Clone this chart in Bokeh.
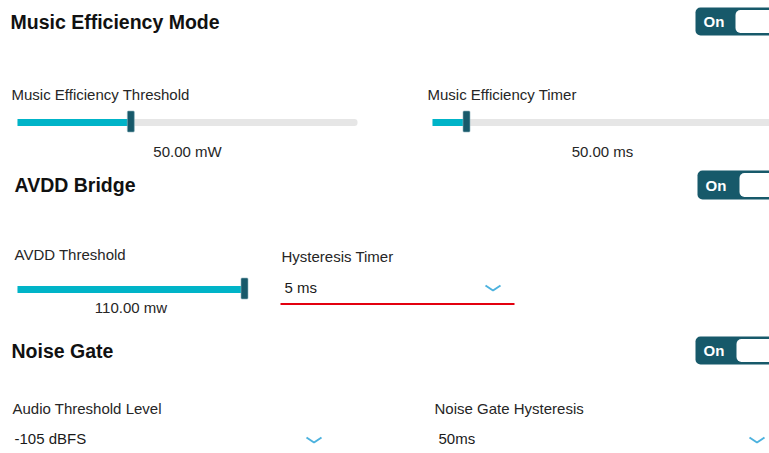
from bokeh.plotting import figure
from bokeh.models import Range1d
from bokeh.core.properties import value
from bokeh.embed import file_html
from bokeh.resources import INLINE

# ---- data ----
section_titles = ["Music Efficiency Mode", "AVDD Bridge", "Noise Gate"]
toggle_states = ["On", "On", "On"]
slider_labels = ["Music Efficiency Threshold", "Music Efficiency Timer", "AVDD Threshold"]
slider_values = [50.0, 50.0, 110.0]
slider_min = [0.0, 0.0, 0.0]
slider_max = [150.0, 500.0, 110.0]
slider_units = ["mW", "ms", "mw"]
dropdown_labels = ["Hysteresis Timer", "Audio Threshold Level", "Noise Gate Hysteresis"]
dropdown_values = ["5 ms", "-105 dBFS", "50ms"]

# ---- styles ----
FONT = value("Liberation Sans")
DARK = "#17596a"
CYAN = "#00b4c8"
TRACK = "#e6e6e6"
TEXT = "#262626"
CHEV = "#4cb2de"
RED = "#e3000f"
TB = 7  # baseline correction for text rendering

p = figure(width=769, height=453, x_range=Range1d(0, 769), y_range=Range1d(453, 0),
           output_backend="svg", toolbar_location=None, x_axis_type=None, y_axis_type=None,
           min_border=0, outline_line_color=None, background_fill_color="white",
           border_fill_color="white")
p.grid.visible = False

# ---- section titles ----
title_pos = [(10, 28), (14, 191), (11, 357)]
p.text(x=[t[0] for t in title_pos], y=[t[1] - TB for t in title_pos], text=section_titles,
       text_font=FONT, text_font_size=value("19.5px"), text_font_style="bold",
       text_color="#111111", text_baseline="alphabetic", text_align="left")

# ---- toggles ----
tog = [(695, 7, 35, 735), (697, 170, 199, 739), (695, 336, 364, 736)]
p.quad(left=[t[0] for t in tog], right=[820] * 3, top=[t[1] for t in tog], bottom=[t[2] for t in tog],
       fill_color=DARK, line_color=None, border_radius=5)
p.quad(left=[t[3] for t in tog], right=[816] * 3, top=[t[1] + 2.5 for t in tog],
       bottom=[t[2] - 2.5 for t in tog], fill_color="white", line_color=None, border_radius=5)
p.text(x=[t[0] + 8 for t in tog], y=[t[2] - 7.5 - TB for t in tog], text=toggle_states,
       text_font=FONT, text_font_size=value("15px"), text_font_style="bold",
       text_color="white", text_baseline="alphabetic", text_align="left")

# ---- sliders ----
slider_geom = [(17, 357, 122, 11, 101, 158), (432, 772, 122, 427, 101, 158), (17, 244, 289, 14, 261, 314)]
x0s = [g[0] for g in slider_geom]
x1s = [g[1] for g in slider_geom]
ycs = [g[2] for g in slider_geom]
thumb_x = [g[0] + (v - lo) / (hi - lo) * (g[1] - g[0])
           for g, v, lo, hi in zip(slider_geom, slider_values, slider_min, slider_max)]
p.quad(left=x0s, right=x1s, top=[y - 3.5 for y in ycs], bottom=[y + 3.5 for y in ycs],
       fill_color=TRACK, line_color=None, border_radius=3)
p.quad(left=x0s, right=thumb_x, top=[y - 3.5 for y in ycs], bottom=[y + 3.5 for y in ycs],
       fill_color=CYAN, line_color=None)
p.quad(left=[x - 3.5 for x in thumb_x], right=[x + 3.5 for x in thumb_x],
       top=[y - 11.5 for y in ycs], bottom=[y + 9.5 for y in ycs],
       fill_color=DARK, line_color="#8fb3bd", line_width=0.6, border_radius=1)
p.text(x=[g[3] for g in slider_geom], y=[g[4] - TB for g in slider_geom], text=slider_labels,
       text_font=FONT, text_font_size=value("15px"), text_color=TEXT,
       text_baseline="alphabetic", text_align="left")
p.text(x=[(g[0] + g[1]) / 2 for g in slider_geom], y=[g[5] - TB for g in slider_geom],
       text=[f"{v:.2f} {u}" for v, u in zip(slider_values, slider_units)],
       text_font=FONT, text_font_size=value("15px"), text_color=TEXT,
       text_baseline="alphabetic", text_align="center")

# ---- dropdowns ----
dd_geom = [(281, 263, 284, 294, 492.5, 285), (12, 414.5, 14, 445, 313.5, 437), (434, 414.5, 438, 445, 756.5, 437)]
p.text(x=[g[0] for g in dd_geom], y=[g[1] - TB for g in dd_geom], text=dropdown_labels,
       text_font=FONT, text_font_size=value("15px"), text_color=TEXT,
       text_baseline="alphabetic", text_align="left")
p.text(x=[g[2] for g in dd_geom], y=[g[3] - TB for g in dd_geom], text=dropdown_values,
       text_font=FONT, text_font_size=value("15px"), text_color="#1a1a1a",
       text_baseline="alphabetic", text_align="left")
p.multi_line(xs=[[g[4] - 7.5, g[4], g[4] + 7.5] for g in dd_geom],
             ys=[[g[5], g[5] + 5, g[5]] for g in dd_geom],
             line_color=CHEV, line_width=2)
p.segment(x0=[280], y0=[303.5], x1=[514], y1=[303.5], line_color=RED, line_width=2)

open("out.html", "w").write(file_html(p, INLINE))
